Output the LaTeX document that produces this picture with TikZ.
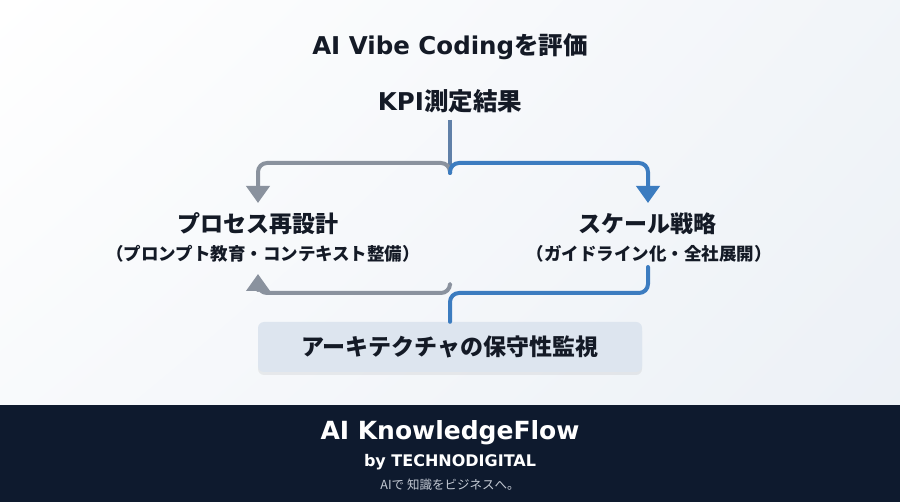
\documentclass[tikz,border=0pt]{standalone}
\usepackage{fontspec}
\setmainfont{Noto Sans CJK JP}
\newfontfamily\latinface{DejaVu Sans}
\newcommand{\lat}[1]{{\latinface #1}}
\usetikzlibrary{arrows.meta,shadows,shadings}

\definecolor{flowgray}{RGB}{138,146,158}
\definecolor{flowblue}{RGB}{60,124,192}
\definecolor{stemblue}{RGB}{96,128,168}
\definecolor{boxfill}{RGB}{221,229,239}
\definecolor{footnavy}{RGB}{14,26,46}
\definecolor{inkdark}{RGB}{20,26,38}
\definecolor{taglight}{RGB}{196,202,212}

\tikzset{
  headtext/.style={font=\bfseries\fontsize{24.5}{28}\selectfont,text=inkdark},
  branchtext/.style={font=\bfseries\fontsize{23}{27}\selectfont,text=inkdark},
  subtext/.style={font=\bfseries\fontsize{17.5}{21}\selectfont,text=inkdark},
  flowline/.style={line width=4pt,rounded corners=9pt},
  flowtip/.style={-{Triangle[width=23pt,length=17pt]}},
  archbox/.style={rounded corners=6pt,fill=boxfill,minimum width=384pt,minimum height=50pt,
    drop shadow={shadow xshift=0pt,shadow yshift=-3pt,opacity=0.12},
    font=\bfseries\fontsize{23}{27}\selectfont,text=inkdark}
}

\begin{document}
\begin{tikzpicture}[x=1pt,y=-1pt,line cap=round,line join=round]
  \useasboundingbox (0,0) rectangle (900,502);

  % fondo
  \shade[upper left=white,upper right=white!60!boxfill,lower left=white!80!boxfill,lower right=white!45!boxfill]
    (0,0) rectangle (900,405);

  % titulos
  \node[headtext] (title) at (450,47) {\lat{AI Vibe Coding}を評価};
  \node[headtext] (kpi) at (450,101) {\lat{KPI}測定結果};

  % ramas
  \node[branchtext] (proc) at (258,224) {プロセス再設計};
  \node[subtext] (procsub) at (263,254) {（プロンプト教育・コンテキスト整備）};
  \node[branchtext] (scale) at (647,224) {スケール戦略};
  \node[subtext] (scalesub) at (649,254) {（ガイドライン化・全社展開）};

  \coordinate (split) at (450,163);
  \coordinate (procin) at (258,203);
  \coordinate (scalein) at (648,203);
  \coordinate (scaleout) at (648,267);
  \coordinate (join) at (450,293);
  \coordinate (procback) at (258,274);

  \draw[flowline,stemblue,line cap=butt] (450,120) -- ([yshift=-6pt]split);
  \draw[flowline,flowgray,flowtip] ([yshift=-10pt]split) |- (258,163) -- (procin);
  \draw[flowline,flowblue,flowtip] ([yshift=-10pt]split) |- (648,163) -- (scalein);

  % bucle inferior
  \node[archbox] (arch) at (450,347) {アーキテクチャの保守性監視};
  \draw[flowline,flowblue] (scaleout) |- (join) -- (arch.north);
  \draw[flowline,flowgray,flowtip] ([yshift=8pt]join) |- (258,293) -- (procback);

  % pie
  \fill[footnavy] (0,405) rectangle (900,502);
  \node[font=\latinface\bfseries\fontsize{25}{29}\selectfont,text=white] (brand) at (450,433) {AI KnowledgeFlow};
  \node[font=\latinface\bfseries\fontsize{16}{19}\selectfont,text=white] (by) at (450,462) {by TECHNODIGITAL};
  \node[font=\fontsize{12.5}{15}\selectfont,text=taglight] (tag) at (450,485) {AIで 知識をビジネスへ。};
\end{tikzpicture}
\end{document}
